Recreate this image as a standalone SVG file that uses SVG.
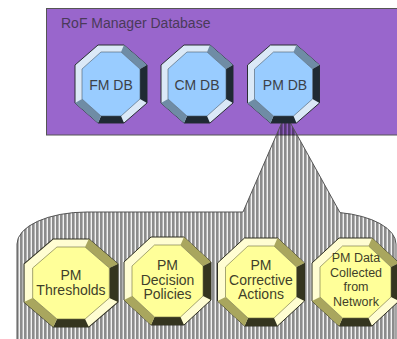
<svg xmlns="http://www.w3.org/2000/svg" width="397" height="339" viewBox="0 0 397 339">
<style>
.txt{font-family:"Liberation Sans",Arial,sans-serif;font-size:14px;text-anchor:middle;}
.sm{font-size:12.5px;}
.bt{fill:#3c4148;}
.yt{fill:#3f3f2a;}
.title{font-family:"Liberation Sans",Arial,sans-serif;font-size:14px;fill:#4a3a5a;}
</style>
<defs>
<pattern id="hatch" width="4" height="10" patternUnits="userSpaceOnUse">
<rect width="4" height="10" fill="rgba(0,0,0,0.05)"/>
<rect width="2.6" height="10" fill="rgba(0,0,0,0.42)"/>
</pattern>
<g id="octB">
<polygon points="-13,-39 13,-39 36,-19 36,19 13,39 -13,39 -36,19 -36,-19" fill="#dbe9f7" stroke="#2a2f35" stroke-width="1"/>
<polygon points="13,-39 36,-19 29,-15 10,-32" fill="#6f8ca5"/>
<polygon points="36,-19 36,19 29,15 29,-15" fill="#1f2a33"/>
<polygon points="13,39 -13,39 -10,32 10,32" fill="#1f2a33"/>
<polygon points="-13,39 -36,19 -29,15 -10,32" fill="#6f8ca5"/>
<polygon points="-10,-32 10,-32 29,-15 29,15 10,32 -10,32 -29,15 -29,-15" fill="#99ccff" stroke="#4a5a6a" stroke-width="0.6"/>
</g>
<g id="octY">
<polygon points="-16.5,-44 16.5,-44 43.5,-19 43.5,19 16.5,44 -16.5,44 -43.5,19 -43.5,-19" fill="#fffdd2" stroke="#2e2e22" stroke-width="1"/>
<polygon points="16.5,-44 43.5,-19 35.5,-15 13,-36" fill="#a9a65e"/>
<polygon points="43.5,-19 43.5,19 35.5,15 35.5,-15" fill="#35351f"/>
<polygon points="16.5,44 -16.5,44 -13,36 13,36" fill="#35351f"/>
<polygon points="-16.5,44 -43.5,19 -35.5,15 -13,36" fill="#a9a65e"/>
<polygon points="-13,-36 13,-36 35.5,-15 35.5,15 13,36 -13,36 -35.5,15 -35.5,-15" fill="#ffff99" stroke="#6a6a40" stroke-width="0.6"/>
</g>
</defs>
<rect width="397" height="339" fill="#ffffff"/>
<g id="rof-manager-database">
<rect x="46.5" y="8.5" width="360" height="126.5" fill="#9966cc" stroke="#555" stroke-width="1"/>
<text class="title" x="61" y="28">RoF Manager Database</text>
</g>
<g id="connectors">
<path id="callout" d="M243,212 L285.5,114 L340,212.6 A70 32 0 0 1 396,244 L396,345 L17,345 L17,244 A70 32 0 0 1 87,212 Z" fill="url(#hatch)" stroke="#555" stroke-width="1"/>
</g>
<g id="fm-db">
<use href="#octB" transform="translate(111,84)"/>
<text class="txt bt" x="111" y="90">FM DB</text>
</g>
<g id="cm-db">
<use href="#octB" transform="translate(197,84)"/>
<text class="txt bt" x="197" y="90">CM DB</text>
</g>
<g id="pm-db">
<use href="#octB" transform="translate(283.5,84)"/>
<text class="txt bt" x="285" y="90">PM DB</text>
</g>
<g id="pm-thresholds">
<use href="#octY" transform="translate(71,283) scale(1.08,1)"/>
<text class="txt yt" x="71" y="280">PM</text>
<text class="txt yt" x="71" y="295">Thresholds</text>
</g>
<g id="pm-decision-policies">
<use href="#octY" transform="translate(167.5,281)"/>
<text class="txt yt" x="167.5" y="270">PM</text>
<text class="txt yt" x="167.5" y="284.5">Decision</text>
<text class="txt yt" x="167.5" y="299">Policies</text>
</g>
<g id="pm-corrective-actions">
<use href="#octY" transform="translate(261,282)"/>
<text class="txt yt" x="261" y="270">PM</text>
<text class="txt yt" x="261" y="284.5">Corrective</text>
<text class="txt yt" x="261" y="299">Actions</text>
</g>
<g id="pm-data-collected">
<use href="#octY" transform="translate(355.5,282)"/>
<text class="txt yt sm" x="356" y="262">PM Data</text>
<text class="txt yt sm" x="356" y="276.5">Collected</text>
<text class="txt yt sm" x="356" y="291">from</text>
<text class="txt yt sm" x="356" y="305.5">Network</text>
</g>
</svg>
